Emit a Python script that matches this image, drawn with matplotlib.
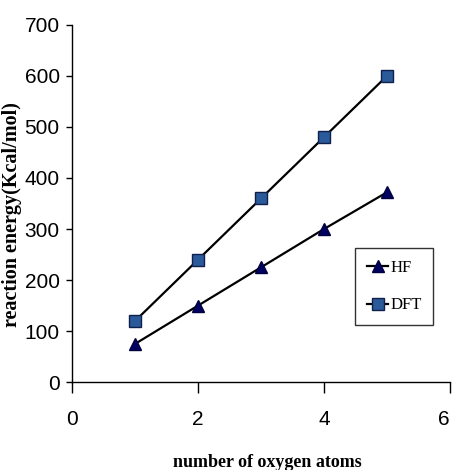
import matplotlib
matplotlib.use("Agg")
import matplotlib.pyplot as plt

n_oxygen = [1, 2, 3, 4, 5]
hf_energy = [75, 150, 225, 300, 372]
dft_energy = [120, 240, 360, 480, 600]
x_ticks = [0, 2, 4, 6]
y_ticks = [0, 100, 200, 300, 400, 500, 600, 700]

tick_font = "Liberation Sans"

fig = plt.figure(figsize=(4.54, 4.70), dpi=100)
ax = fig.add_axes([0.159, 0.187, 0.832, 0.760])

ax.plot(n_oxygen, hf_energy, color="black", lw=1.6, marker="^", markersize=8,
        markerfacecolor="#000060", markeredgecolor="#000040", label="HF")
ax.plot(n_oxygen, dft_energy, color="black", lw=1.6, marker="s", markersize=8,
        markerfacecolor="#2a5a9a", markeredgecolor="#10204a", label="DFT")

ax.set_xlim(0, 6)
ax.set_ylim(0, 700)
ax.set_xticks(x_ticks)
ax.set_yticks(y_ticks)
for s in ["top", "right"]:
    ax.spines[s].set_visible(False)
for s in ["left", "bottom"]:
    ax.spines[s].set_linewidth(1.0)
ax.tick_params(axis="y", direction="out", length=4, width=1, pad=5)
ax.tick_params(axis="x", direction="out", length=8, width=1, pad=12)
for lab in ax.get_xticklabels() + ax.get_yticklabels():
    lab.set_fontfamily(tick_font)
    lab.set_fontsize(15)
ax.get_xticklabels()[-1].set_horizontalalignment("right")

ax.set_xlabel("number of oxygen atoms", fontfamily="Liberation Serif",
              fontweight="bold", fontsize=13)
ax.xaxis.set_label_coords(0.518, -0.224)
ax.xaxis.label.set_verticalalignment("center")
ax.set_ylabel("reaction energy(Kcal/mol)", fontfamily="Liberation Serif",
              fontweight="bold", fontsize=14.5)
ax.yaxis.set_label_coords(-0.160, 0.469)
ax.yaxis.label.set_verticalalignment("center")

leg = ax.legend(loc="upper left", bbox_to_anchor=(0.782, 0.472),
                bbox_transform=fig.transFigure, borderaxespad=0, frameon=True,
                fancybox=False, edgecolor="black", handlelength=1.3,
                handletextpad=0.1, borderpad=0.7, labelspacing=1.3,
                prop={"family": "Liberation Serif", "size": 12})
leg.get_frame().set_linewidth(1.0)

fig.savefig("out.png", dpi=100)
